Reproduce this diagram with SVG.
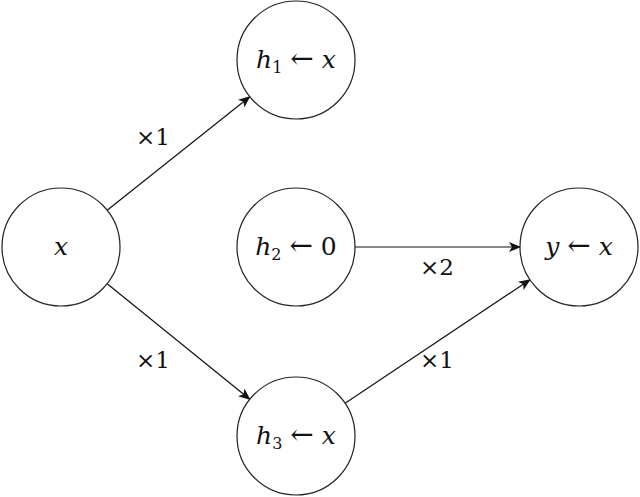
<svg xmlns="http://www.w3.org/2000/svg" width="640" height="497" viewBox="0 0 640 497">
<style>
.node circle{fill:#fff;stroke:#222;stroke-width:1.2}
text{font-family:'DejaVu Serif','Liberation Serif',serif;fill:#111;text-anchor:middle}
.lbl{font-size:25px}
.it{font-style:italic}
.sub{font-size:16px}
.ar{font-size:28px}
.edge{stroke:#111;stroke-width:1.2;fill:none;marker-end:url(#arr)}
.w{font-size:23px}
</style>
<defs>
<marker id="arr" viewBox="0 0 12 10" refX="11" refY="5" markerWidth="12" markerHeight="10" markerUnits="userSpaceOnUse" orient="auto">
<path d="M0,0 L12,5 L0,10 L3,5 Z" fill="#111"/>
</marker>
</defs>
<g id="connectors">
<line class="edge" x1="107.2" y1="210.3" x2="249.8" y2="96.7"/>
<line class="edge" x1="107.2" y1="283.7" x2="249.8" y2="399.3"/>
<line class="edge" x1="355" y1="247" x2="520" y2="247"/>
<line class="edge" x1="345.1" y1="403.2" x2="529.9" y2="279.8"/>
<text class="w" x="153" y="145">×1</text>
<text class="w" x="153" y="368">×1</text>
<text class="w" x="437" y="275">×2</text>
<text class="w" x="437" y="368">×1</text>
</g>
<g id="node-x" class="node">
<circle cx="61" cy="247" r="59"/>
<text class="lbl it" x="61" y="255">x</text>
</g>
<g id="node-h1" class="node">
<circle cx="296" cy="60" r="59"/>
<text class="lbl" x="296" y="68" xml:space="preserve"><tspan class="it">h</tspan><tspan class="sub" dy="5">1</tspan><tspan dy="-5"> </tspan><tspan class="ar">←</tspan><tspan> </tspan><tspan class="it">x</tspan></text>
</g>
<g id="node-h2" class="node">
<circle cx="296" cy="247" r="59"/>
<text class="lbl" x="296" y="255" xml:space="preserve"><tspan class="it">h</tspan><tspan class="sub" dy="5">2</tspan><tspan dy="-5"> </tspan><tspan class="ar">←</tspan><tspan> 0</tspan></text>
</g>
<g id="node-h3" class="node">
<circle cx="296" cy="436" r="59"/>
<text class="lbl" x="296" y="444" xml:space="preserve"><tspan class="it">h</tspan><tspan class="sub" dy="5">3</tspan><tspan dy="-5"> </tspan><tspan class="ar">←</tspan><tspan> </tspan><tspan class="it">x</tspan></text>
</g>
<g id="node-y" class="node">
<circle cx="579" cy="247" r="59"/>
<text class="lbl" x="579" y="255" xml:space="preserve"><tspan class="it">y</tspan><tspan> </tspan><tspan class="ar">←</tspan><tspan> </tspan><tspan class="it">x</tspan></text>
</g>
</svg>
